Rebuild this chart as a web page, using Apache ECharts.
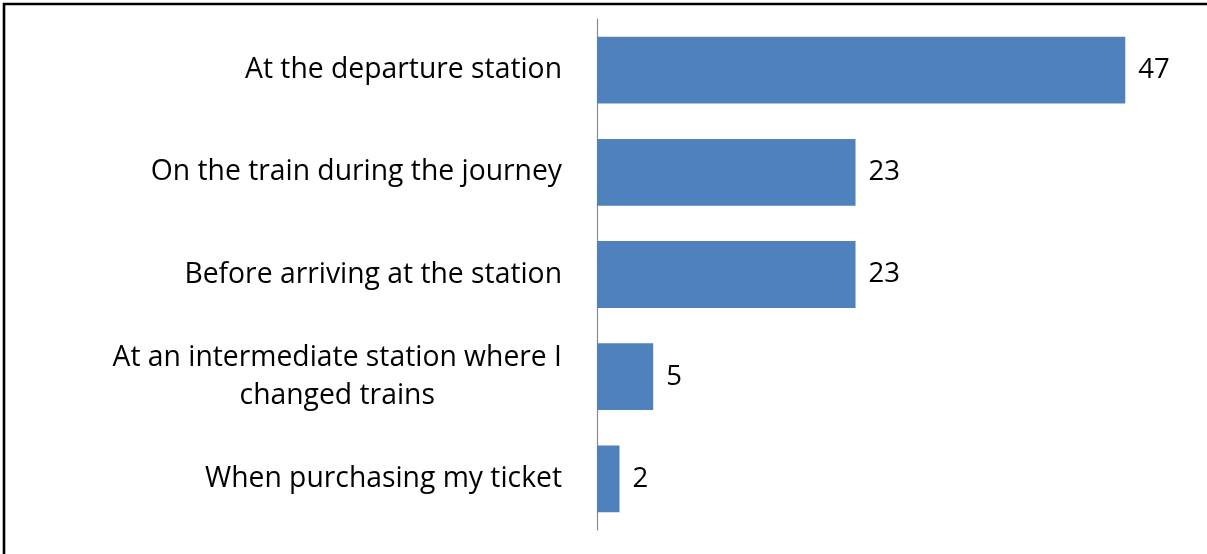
<!DOCTYPE html>
<html>
<head>
<meta charset="utf-8">
<style>
  html, body { margin: 0; padding: 0; background: #fff; }
  #chart { width: 1207px; height: 554px; }
</style>
<script src="https://cdn.jsdelivr.net/npm/echarts@6/dist/echarts.min.js"></script>
</head>
<body>
<div id="chart"></div>
<script>
const categories = [
  "At the departure station",
  "On the train during the journey",
  "Before arriving at the station",
  "At an intermediate station where I\nchanged trains",
  "When purchasing my ticket"
];
const values = [47, 23, 23, 5, 2];

const chart = echarts.init(document.getElementById('chart'));
const FONT = '"Open Sans", sans-serif';
chart.setOption({
  animation: false,
  backgroundColor: '#ffffff',
  graphic: [{
    type: 'polyline',
    shape: { points: [[4, 554], [4, 4], [1207, 4]] },
    style: { stroke: '#000', lineWidth: 2.6, fill: null },
    silent: true
  }],
  grid: { left: 597, right: 48, top: 19, bottom: 24, containLabel: false },
  xAxis: {
    type: 'value',
    min: 0,
    max: 50,
    show: false
  },
  yAxis: {
    type: 'category',
    data: categories,
    inverse: true,
    axisLine: { show: true, lineStyle: { color: '#8a8a8a', width: 1.2 } },
    axisTick: { show: false },
    splitLine: { show: false },
    axisLabel: {
      margin: 35,
      color: '#000',
      fontFamily: FONT,
      fontSize: 28.3,
      lineHeight: 38,
      formatter: function (v) {
        return v.split('\n').map(function (l) { return '{c|' + l + '}'; }).join('\n');
      },
      rich: {
        c: { align: 'center', fontFamily: FONT, fontSize: 28.3, lineHeight: 38, color: '#000' }
      }
    }
  },
  series: [{
    type: 'bar',
    data: values,
    barCategoryGap: '34.6%',
    itemStyle: { color: '#4F81BD' },
    label: {
      show: true,
      position: 'right',
      distance: 13,
      color: '#000',
      fontFamily: FONT,
      fontSize: 27.5
    }
  }]
});
</script>
</body>
</html>
